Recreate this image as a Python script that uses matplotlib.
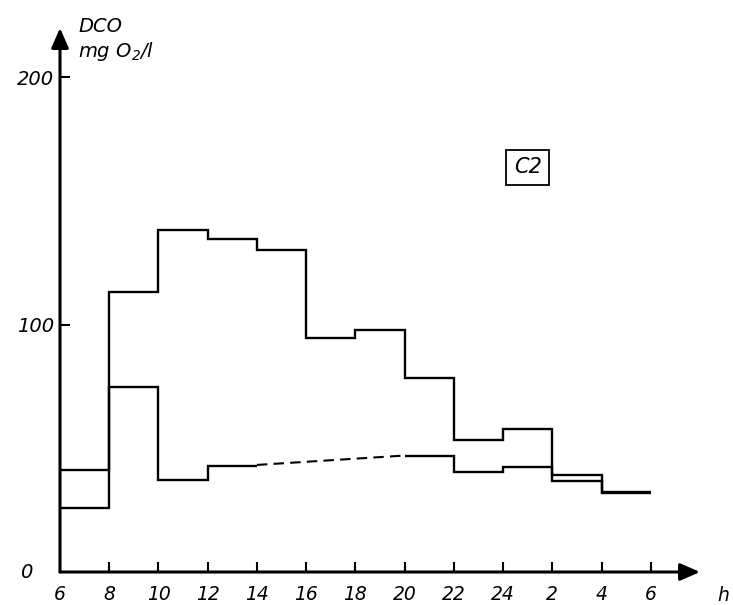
import matplotlib
matplotlib.use("Agg")
import matplotlib.pyplot as plt

# hours elapsed since 6 h, bin edges every 2 h
edges = [0, 2, 4, 6, 8, 10, 12, 14, 16, 18, 20, 22, 24]
tick_labels = ["6", "8", "10", "12", "14", "16", "18", "20", "22", "24", "2", "4", "6"]

# DCO, mg O2/l
upper = [41.3, 113.4, 138.2, 134.7, 130.4, 94.6, 98.0, 78.4, 53.4, 58.0, 39.3, 32.5]
lower_day = [25.9, 75.0, 37.2, 42.9]          # 6 h - 14 h
lower_gap = [43.3, 47.1]                      # dashed 14 h - 20 h
lower_night = [47.1, 40.6, 42.6, 36.8, 32.1]  # 20 h - 6 h

plt.rcParams["font.family"] = ["DejaVu Sans"]
plt.rcParams["font.style"] = "italic"

fig = plt.figure(figsize=(7.33, 6.05), dpi=100)
ax = fig.add_axes((60 / 733, 33 / 605, 640 / 733, 544 / 605))
ax.set_xlim(0, 26)
ax.set_ylim(0, 220)

line_kw = dict(color="black", lw=1.7)
ax.stairs(upper, edges, baseline=None, **line_kw)
ax.stairs(lower_day, edges[:5], baseline=None, **line_kw)
ax.stairs(lower_night, edges[7:], baseline=None, **line_kw)
ax.plot([edges[4], edges[7]], lower_gap, color="black", lw=1.5,
        linestyle=(0, (5, 3)))

for side in ["top", "right", "left", "bottom"]:
    ax.spines[side].set_visible(False)

arrow = dict(arrowstyle="-|>,head_length=0.8,head_width=0.35", color="black",
             lw=2.2, shrinkA=0, shrinkB=0, mutation_scale=15)
ax.annotate("", xy=(1, 0), xytext=(0, 0), xycoords="axes fraction",
            arrowprops=arrow, annotation_clip=False)
ax.annotate("", xy=(0, 1), xytext=(0, 0), xycoords="axes fraction",
            arrowprops=arrow, annotation_clip=False)

ax.set_xticks(edges)
ax.set_xticklabels(tick_labels, fontsize=13.5)
ax.set_yticks([100, 200])
ax.set_yticklabels(["100", "200"], fontsize=14)
ax.tick_params(axis="x", direction="in", length=7, width=1.5, pad=9)
ax.tick_params(axis="y", direction="in", length=7, width=1.5, pad=4)

ax.annotate("0", xy=(0, 0), xycoords="axes fraction", xytext=(-24, 0),
            textcoords="offset points", fontsize=14, ha="center", va="center")
ax.annotate("h", xy=(1, 0), xycoords="axes fraction", xytext=(17, -17),
            textcoords="offset points", fontsize=13.5, ha="center", va="center")
ax.annotate("DCO", xy=(0, 1), xycoords="axes fraction", xytext=(13, 1),
            textcoords="offset points", fontsize=14, ha="left", va="center")
ax.annotate("mg O$_2$/l", xy=(0, 1), xycoords="axes fraction", xytext=(13, -17),
            textcoords="offset points", fontsize=14, ha="left", va="center")

ax.text(19.0, 163.6, "C2", fontsize=15, ha="center", va="center",
        bbox=dict(boxstyle="square,pad=0.35", fc="white", ec="black", lw=1.3))

fig.savefig("out.png", dpi=100)
